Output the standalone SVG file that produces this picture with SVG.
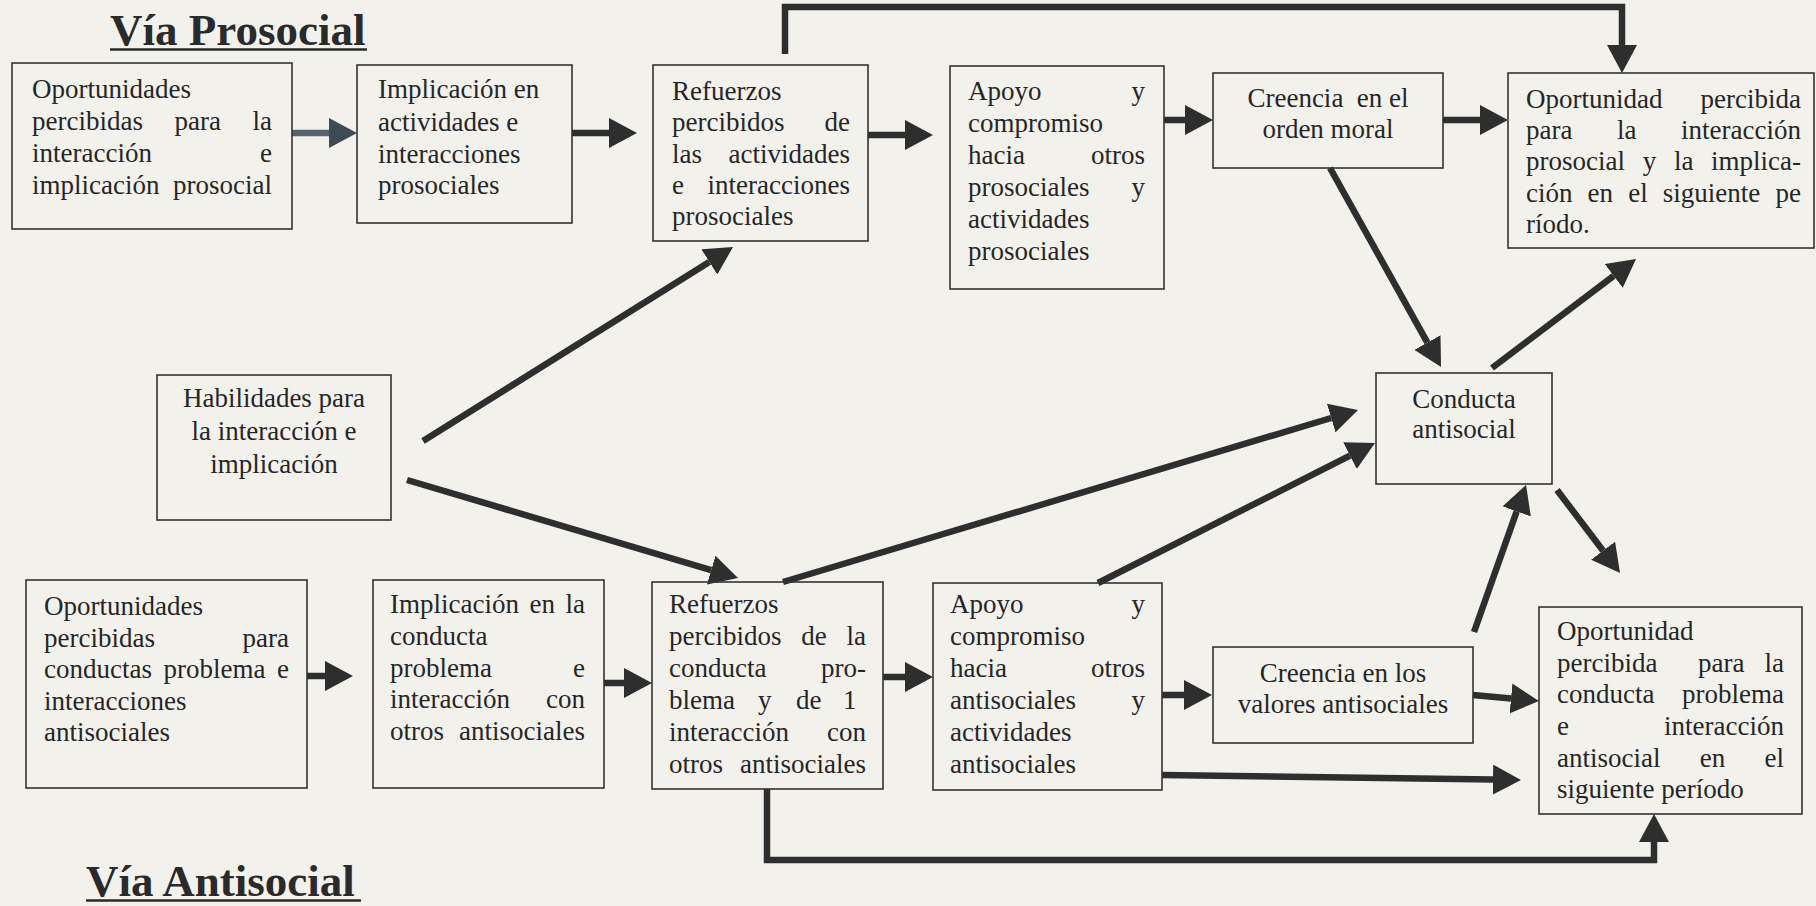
<svg xmlns="http://www.w3.org/2000/svg" width="1816" height="906" viewBox="0 0 1816 906">
<defs>
<style>
.bg{fill:#f3f1ec}
.box{fill:none;stroke:#333;stroke-width:1.6}
.t{font-family:"Liberation Serif","Times New Roman",serif;font-size:27px;fill:#262626}
.c{text-anchor:middle}
.ttl{font-family:"Liberation Serif","Times New Roman",serif;font-size:45px;font-weight:bold;fill:#2a2a2a}
.ul{stroke:#2a2a2a;stroke-width:2.5}
.cn{stroke:#2e2e2e;stroke-width:6.5;fill:none;marker-end:url(#ah)}
.cnb{stroke:#56626c;stroke-width:6.5;fill:none;marker-end:url(#ahb)}
</style>
<marker id="ah" markerUnits="userSpaceOnUse" markerWidth="28" markerHeight="30" viewBox="0 0 28 30" refX="0" refY="15" orient="auto"><path d="M0,0 L28,15 L0,30 z" fill="#2e2e2e"/></marker>
<marker id="ahb" markerUnits="userSpaceOnUse" markerWidth="28" markerHeight="30" viewBox="0 0 28 30" refX="0" refY="15" orient="auto"><path d="M0,0 L28,15 L0,30 z" fill="#3f4a54"/></marker>
</defs>
<rect class="bg" x="0" y="0" width="1816" height="906"/>

<g id="title-prosocial">
<text class="ttl" x="110" y="45">Vía Prosocial</text>
<line class="ul" x1="110" y1="49.5" x2="367" y2="49.5"/>
</g>
<g id="title-antisocial">
<text class="ttl" x="86" y="896">Vía Antisocial</text>
<line class="ul" x1="86" y1="900.5" x2="361" y2="900.5"/>
</g>

<g id="connectors">
<line class="cnb" x1="292" y1="133" x2="329" y2="133"/>
<line class="cn" x1="572" y1="133" x2="609" y2="133"/>
<line class="cn" x1="868" y1="135" x2="905" y2="135"/>
<line class="cn" x1="1164" y1="120" x2="1185" y2="120"/>
<line class="cn" x1="1443" y1="120" x2="1480" y2="120"/>
<path class="cn" d="M785,54 V7 H1622 V45"/>
<line class="cn" x1="423" y1="441" x2="709.3" y2="261.9"/>
<line class="cn" x1="407" y1="480" x2="711.2" y2="570.1"/>
<line class="cn" x1="783" y1="582" x2="1331.2" y2="418"/>
<line class="cn" x1="1098" y1="583" x2="1350" y2="455.6"/>
<line class="cn" x1="1330" y1="168" x2="1427.4" y2="342.6"/>
<line class="cn" x1="1492" y1="368" x2="1613.7" y2="275.9"/>
<line class="cn" x1="1557" y1="490" x2="1603.1" y2="550.7"/>
<line class="cn" x1="1474" y1="632" x2="1516.7" y2="511.4"/>
<line class="cn" x1="1473" y1="695" x2="1511" y2="698.5"/>
<line class="cn" x1="1162" y1="775" x2="1493" y2="779.6"/>
<path class="cn" d="M767,789 V860 H1654 V842"/>
<line class="cn" x1="307" y1="676" x2="325" y2="676"/>
<line class="cn" x1="604" y1="683" x2="624" y2="683"/>
<line class="cn" x1="883" y1="677" x2="905" y2="677"/>
<line class="cn" x1="1162" y1="695" x2="1184" y2="695"/>
</g>

<g id="n-oport-pro">
<rect class="box" x="12" y="63" width="280" height="166"/>
<text class="t" y="98"><tspan x="32">Oportunidades</tspan></text>
<text class="t" y="130"><tspan x="32">percibidas</tspan><tspan x="174.5">para</tspan><tspan x="272" text-anchor="end">la</tspan></text>
<text class="t" y="162"><tspan x="32">interacción</tspan><tspan x="272" text-anchor="end">e</tspan></text>
<text class="t" y="194"><tspan x="32">implicación</tspan><tspan x="272" text-anchor="end">prosocial</tspan></text>
</g>

<g id="n-implic-pro">
<rect class="box" x="357" y="65" width="215" height="158"/>
<text class="t" x="378" y="98">Implicación en</text>
<text class="t" x="378" y="131">actividades e</text>
<text class="t" x="378" y="163">interacciones</text>
<text class="t" x="378" y="194">prosociales</text>
</g>

<g id="n-refuerzos-pro">
<rect class="box" x="653" y="65" width="215" height="176"/>
<text class="t" x="672" y="100">Refuerzos</text>
<text class="t" y="131"><tspan x="672">percibidos</tspan><tspan x="850" text-anchor="end">de</tspan></text>
<text class="t" y="163"><tspan x="672">las</tspan><tspan x="850" text-anchor="end">actividades</tspan></text>
<text class="t" y="194"><tspan x="672">e</tspan><tspan x="850" text-anchor="end">interacciones</tspan></text>
<text class="t" x="672" y="225">prosociales</text>
</g>

<g id="n-apoyo-pro">
<rect class="box" x="950" y="66" width="214" height="223"/>
<text class="t" y="100"><tspan x="968">Apoyo</tspan><tspan x="1145" text-anchor="end">y</tspan></text>
<text class="t" x="968" y="132">compromiso</text>
<text class="t" y="164"><tspan x="968">hacia</tspan><tspan x="1145" text-anchor="end">otros</tspan></text>
<text class="t" y="196"><tspan x="968">prosociales</tspan><tspan x="1145" text-anchor="end">y</tspan></text>
<text class="t" x="968" y="228">actividades</text>
<text class="t" x="968" y="260">prosociales</text>
</g>

<g id="n-creencia-moral">
<rect class="box" x="1213" y="73" width="230" height="95"/>
<text class="t c" x="1328" y="107" xml:space="preserve">Creencia  en el</text>
<text class="t c" x="1328" y="138">orden moral</text>
</g>

<g id="n-oport-sig-pro">
<rect class="box" x="1508" y="73" width="306" height="175"/>
<text class="t" y="108"><tspan x="1526">Oportunidad</tspan><tspan x="1801" text-anchor="end">percibida</tspan></text>
<text class="t" y="139"><tspan x="1526">para</tspan><tspan x="1617">la</tspan><tspan x="1801" text-anchor="end">interacción</tspan></text>
<text class="t" y="170"><tspan x="1526">prosocial</tspan><tspan x="1642.7">y</tspan><tspan x="1673.9">la</tspan><tspan x="1801" text-anchor="end">implica-</tspan></text>
<text class="t" y="202"><tspan x="1526">ción</tspan><tspan x="1587.6">en</tspan><tspan x="1628.2">el</tspan><tspan x="1662.8">siguiente</tspan><tspan x="1801" text-anchor="end">pe</tspan></text>
<text class="t" x="1526" y="233">ríodo.</text>
</g>

<g id="n-habilidades">
<rect class="box" x="157" y="375" width="234" height="145"/>
<text class="t c" x="274" y="407">Habilidades para</text>
<text class="t c" x="274" y="440">la interacción e</text>
<text class="t c" x="274" y="473">implicación</text>
</g>

<g id="n-conducta">
<rect class="box" x="1376" y="373" width="176" height="111"/>
<text class="t c" x="1464" y="408">Conducta</text>
<text class="t c" x="1464" y="438">antisocial</text>
</g>

<g id="n-oport-anti">
<rect class="box" x="26" y="580" width="281" height="208"/>
<text class="t" x="44" y="615">Oportunidades</text>
<text class="t" y="647"><tspan x="44">percibidas</tspan><tspan x="289" text-anchor="end">para</tspan></text>
<text class="t" y="678"><tspan x="44">conductas</tspan><tspan x="163.5">problema</tspan><tspan x="289" text-anchor="end">e</tspan></text>
<text class="t" x="44" y="710">interacciones</text>
<text class="t" x="44" y="741">antisociales</text>
</g>

<g id="n-implic-anti">
<rect class="box" x="373" y="580" width="231" height="208"/>
<text class="t" y="613"><tspan x="390">Implicación</tspan><tspan x="529.5">en</tspan><tspan x="585" text-anchor="end">la</tspan></text>
<text class="t" x="390" y="645">conducta</text>
<text class="t" y="677"><tspan x="390">problema</tspan><tspan x="585" text-anchor="end">e</tspan></text>
<text class="t" y="708"><tspan x="390">interacción</tspan><tspan x="585" text-anchor="end">con</tspan></text>
<text class="t" y="740"><tspan x="390">otros</tspan><tspan x="585" text-anchor="end">antisociales</tspan></text>
</g>

<g id="n-refuerzos-anti">
<rect class="box" x="652" y="582" width="231" height="207"/>
<text class="t" x="669" y="613">Refuerzos</text>
<text class="t" y="645"><tspan x="669">percibidos</tspan><tspan x="801.3">de</tspan><tspan x="866" text-anchor="end">la</tspan></text>
<text class="t" y="677"><tspan x="669">conducta</tspan><tspan x="866" text-anchor="end">pro-</tspan></text>
<text class="t" y="709"><tspan x="669">blema</tspan><tspan x="758">y</tspan><tspan x="796">de</tspan><tspan x="843">1</tspan></text>
<text class="t" y="741"><tspan x="669">interacción</tspan><tspan x="866" text-anchor="end">con</tspan></text>
<text class="t" y="773"><tspan x="669">otros</tspan><tspan x="866" text-anchor="end">antisociales</tspan></text>
</g>

<g id="n-apoyo-anti">
<rect class="box" x="933" y="583" width="229" height="207"/>
<text class="t" y="613"><tspan x="950">Apoyo</tspan><tspan x="1145" text-anchor="end">y</tspan></text>
<text class="t" x="950" y="645">compromiso</text>
<text class="t" y="677"><tspan x="950">hacia</tspan><tspan x="1145" text-anchor="end">otros</tspan></text>
<text class="t" y="709"><tspan x="950">antisociales</tspan><tspan x="1145" text-anchor="end">y</tspan></text>
<text class="t" x="950" y="741">actividades</text>
<text class="t" x="950" y="773">antisociales</text>
</g>

<g id="n-creencia-anti">
<rect class="box" x="1213" y="647" width="260" height="96"/>
<text class="t c" x="1343" y="682">Creencia en los</text>
<text class="t c" x="1343" y="713">valores antisociales</text>
</g>

<g id="n-oport-sig-anti">
<rect class="box" x="1539" y="607" width="263" height="207"/>
<text class="t" x="1557" y="640">Oportunidad</text>
<text class="t" y="672"><tspan x="1557">percibida</tspan><tspan x="1698">para</tspan><tspan x="1784" text-anchor="end">la</tspan></text>
<text class="t" y="703"><tspan x="1557">conducta</tspan><tspan x="1784" text-anchor="end">problema</tspan></text>
<text class="t" y="735"><tspan x="1557">e</tspan><tspan x="1784" text-anchor="end">interacción</tspan></text>
<text class="t" y="767"><tspan x="1557">antisocial</tspan><tspan x="1699.8">en</tspan><tspan x="1784" text-anchor="end">el</tspan></text>
<text class="t" x="1557" y="798">siguiente período</text>
</g>
</svg>
